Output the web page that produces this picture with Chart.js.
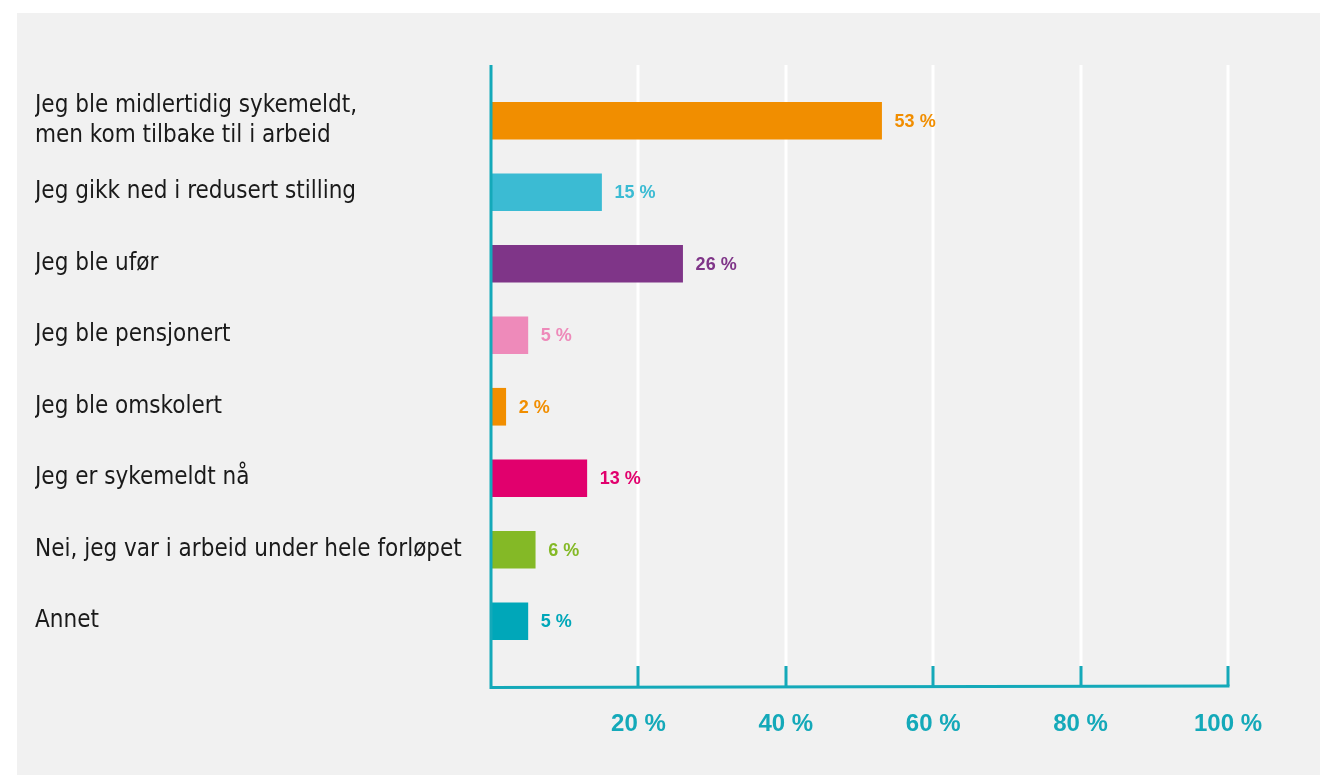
<!DOCTYPE html>
<html>
<head>
<meta charset="utf-8">
<script src="https://cdn.jsdelivr.net/npm/chart.js@4/dist/chart.umd.min.js"></script>
<style>
  html, body { margin: 0; padding: 0; background: #ffffff; }
  #wrap { width: 1320px; height: 775px; position: relative; }
</style>
</head>
<body>
<div id="wrap"><canvas id="chart" width="1320" height="775"></canvas></div>
<script>
const categories = [
  ["Jeg ble midlertidig sykemeldt,", "men kom tilbake til i arbeid"],
  "Jeg gikk ned i redusert stilling",
  "Jeg ble ufør",
  "Jeg ble pensjonert",
  "Jeg ble omskolert",
  "Jeg er sykemeldt nå",
  "Nei, jeg var i arbeid under hele forløpet",
  "Annet"
];
const values = [53, 15, 26, 5, 2, 13, 6, 5];
const barColors = ["#f18e00", "#3bbbd3", "#7f3588", "#ee8aba", "#f18e00", "#e1006d", "#84b926", "#00a7b9"];
const xTicks = [0, 20, 40, 60, 80, 100];

const TEAL = "#14a9b9";
const LABEL_FONT = "'Liberation Sans Narrow', 'DejaVu Sans Condensed', 'Roboto Condensed', Arial, sans-serif";
const BOLD_FONT = "'Liberation Sans', Arial, sans-serif";

// background panel, white gridlines and the teal axis frame
const framePlugin = {
  id: "frame",
  beforeDraw(chart) {
    const ctx = chart.ctx;
    ctx.save();
    ctx.fillStyle = "#ffffff";
    ctx.fillRect(0, 0, chart.width, chart.height);
    ctx.fillStyle = "#f1f1f1";
    ctx.fillRect(17, 13, chart.width - 17, chart.height - 13);
    ctx.restore();
  },
  beforeDatasetsDraw(chart) {
    const ctx = chart.ctx;
    const x = chart.scales.x;
    ctx.save();
    ctx.strokeStyle = "#ffffff";
    ctx.lineWidth = 3;
    xTicks.slice(1).forEach(v => {
      const px = Math.round(x.getPixelForValue(v));
      ctx.beginPath();
      ctx.moveTo(px, 65);
      ctx.lineTo(px, 666);
      ctx.stroke();
    });
    ctx.restore();
  },
  afterDatasetsDraw(chart) {
    const ctx = chart.ctx;
    const x = chart.scales.x;
    const x0 = x.getPixelForValue(0);
    const baseY = 686;
    ctx.save();
    ctx.strokeStyle = TEAL;
    ctx.lineWidth = 3;
    ctx.beginPath();
    ctx.moveTo(x0, 65);
    ctx.lineTo(x0, baseY + 1.5);
    ctx.lineTo(x.getPixelForValue(100) + 1.5, baseY);
    ctx.stroke();
    xTicks.slice(1).forEach(v => {
      const px = Math.round(x.getPixelForValue(v));
      ctx.beginPath();
      ctx.moveTo(px, 666);
      ctx.lineTo(px, baseY);
      ctx.stroke();
    });

    // value labels at the end of each bar
    const meta = chart.getDatasetMeta(0);
    ctx.font = "bold 18px " + BOLD_FONT;
    ctx.textAlign = "left";
    ctx.textBaseline = "middle";
    meta.data.forEach((bar, i) => {
      ctx.fillStyle = barColors[i];
      ctx.fillText(values[i] + " %", bar.x + 13, bar.y + 1);
    });
    ctx.restore();
  }
};

new Chart(document.getElementById("chart"), {
  type: "bar",
  data: {
    labels: categories,
    datasets: [{
      data: values,
      backgroundColor: barColors,
      barThickness: 37,
      borderWidth: 0
    }]
  },
  options: {
    indexAxis: "y",
    responsive: false,
    animation: false,
    layout: { padding: { left: 35, top: 85, right: 92, bottom: 0 } },
    plugins: { legend: { display: false }, tooltip: { enabled: false } },
    scales: {
      x: {
        type: "linear",
        min: 0,
        max: 100,
        afterBuildTicks(scale) {
          scale.ticks = xTicks.map(v => ({ value: v }));
        },
        afterFit(scale) { scale.height = 118; },
        grid: { display: false, drawTicks: false },
        border: { display: false },
        ticks: {
          padding: 53,
          color: TEAL,
          font: { family: BOLD_FONT, size: 24, weight: "bold" },
          maxRotation: 0,
          callback: v => (v === 0 ? "" : v + " %")
        }
      },
      y: {
        afterFit(scale) { scale.width = 456; },
        grid: { display: false, drawTicks: false },
        border: { display: false },
        ticks: {
          crossAlign: "far",
          padding: 0,
          color: "#1a1a1a",
          font: { family: LABEL_FONT, size: 24, lineHeight: 1.24 }
        }
      }
    }
  },
  plugins: [framePlugin]
});
</script>
</body>
</html>
